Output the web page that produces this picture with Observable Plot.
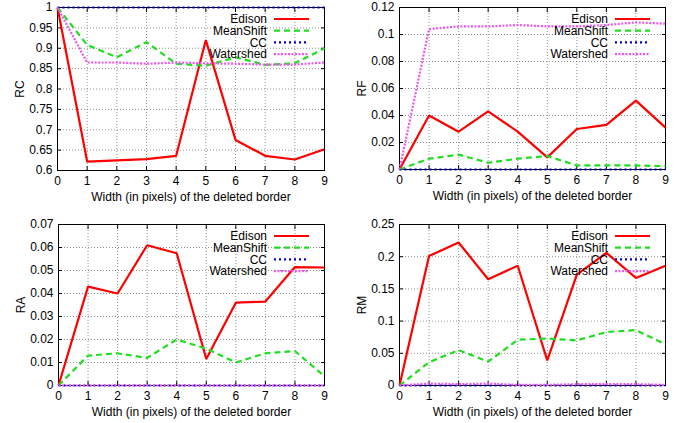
<!DOCTYPE html>
<html><head><meta charset="utf-8">
<script src="https://cdn.jsdelivr.net/npm/d3@7"></script>
<script src="https://cdn.jsdelivr.net/npm/@observablehq/plot@0.6"></script>
<style>
body{margin:0;background:#fff;font-family:"Liberation Sans",Arial,sans-serif;}
#root{position:relative;width:681px;height:423px;overflow:hidden;}
.panel{position:absolute;}
.legend{position:absolute;pointer-events:none;}
</style></head><body><div id="root"></div>
<script>
// ---- data ----
const widths = [0, 1, 2, 3, 4, 5, 6, 7, 8, 9];
const seriesNames = ["Edison", "MeanShift", "CC", "Watershed"];
const xTitle = "Width (in pixels) of the deleted border";

const rcEdison    = [1.0, 0.622, 0.625, 0.628, 0.636, 0.920, 0.675, 0.636, 0.627, 0.652];
const rcMeanShift = [1.0, 0.908, 0.878, 0.915, 0.862, 0.857, 0.878, 0.859, 0.863, 0.900];
const rcCC        = [1, 1, 1, 1, 1, 1, 1, 1, 1, 1];
const rcWatershed = [1.0, 0.865, 0.865, 0.862, 0.865, 0.863, 0.862, 0.860, 0.860, 0.865];

const rfEdison    = [0, 0.040, 0.028, 0.043, 0.028, 0.009, 0.030, 0.033, 0.051, 0.031];
const rfMeanShift = [0, 0.008, 0.011, 0.005, 0.008, 0.010, 0.003, 0.003, 0.003, 0.0025];
const rfCC        = [0, 0, 0, 0, 0, 0, 0, 0, 0, 0];
const rfWatershed = [0, 0.104, 0.106, 0.106, 0.107, 0.106, 0.106, 0.107, 0.109, 0.108];

const raEdison    = [0, 0.043, 0.040, 0.061, 0.0575, 0.0115, 0.036, 0.0365, 0.0515, 0.0513];
const raMeanShift = [0, 0.013, 0.014, 0.012, 0.020, 0.016, 0.010, 0.014, 0.015, 0.004];
const raCC        = [0, 0, 0, 0, 0, 0, 0, 0, 0, 0];
const raWatershed = [0, 0, 0, 0, 0, 0, 0, 0, 0, 0];

const rmEdison    = [0, 0.201, 0.222, 0.165, 0.186, 0.039, 0.172, 0.206, 0.167, 0.186];
const rmMeanShift = [0, 0.036, 0.055, 0.037, 0.071, 0.073, 0.070, 0.083, 0.086, 0.064];
const rmCC        = [0, 0, 0, 0, 0, 0, 0, 0, 0, 0];
const rmWatershed = [0, 0.003, 0.002, 0.003, 0.001, 0.001, 0.002, 0.002, 0.002, 0.001];

const rcTicks = [0.6, 0.65, 0.7, 0.75, 0.8, 0.85, 0.9, 0.95, 1];
const rfTicks = [0, 0.02, 0.04, 0.06, 0.08, 0.1, 0.12];
const raTicks = [0, 0.01, 0.02, 0.03, 0.04, 0.05, 0.06, 0.07];
const rmTicks = [0, 0.05, 0.1, 0.15, 0.2, 0.25];

// ---- styles ----
const styles = {
  Edison:    {stroke: "#ff0000", strokeWidth: 2.2, dash: null},
  MeanShift: {stroke: "#22dd22", strokeWidth: 2.2, dash: "6,4"},
  CC:        {stroke: "#0000dd", strokeWidth: 2.2, dash: "2,3"},
  Watershed: {stroke: "#ee55ee", strokeWidth: 2.2, dash: "2,1.5"}
};

const root = document.getElementById("root");

function panel({left, top, w, h, mt, mb, ml, mr, ticks, label, data}) {
  const rows = seriesNames.flatMap((s, si) => widths.map((x, i) => ({x, y: data[si][i], s})));
  const fmt = d => String(d);
  const grid = {stroke: "#777", strokeOpacity: 1, strokeWidth: 0.8, strokeDasharray: "1,2"};
  const marks = [
    Plot.gridX(widths, grid),
    Plot.gridY(ticks, grid),
    Plot.axisX(widths, {anchor: "bottom", tickSize: -4, tickFormat: () => "", label: null}),
    Plot.axisX(widths, {anchor: "top", tickSize: -4, tickFormat: () => "", label: null}),
    Plot.axisY(ticks, {anchor: "left", tickSize: -4, tickFormat: () => "", label: null}),
    Plot.axisY(ticks, {anchor: "right", tickSize: -4, tickFormat: () => "", label: null}),
    Plot.axisX(widths, {anchor: "bottom", tickSize: 0, tickPadding: 6, tickFormat: fmt,
      label: xTitle, labelAnchor: "center", labelOffset: 30, labelArrow: "none"}),
    Plot.axisY(ticks, {anchor: "left", tickSize: 0, tickPadding: 5, tickFormat: fmt,
      label, labelAnchor: "center", labelOffset: 42, labelArrow: "none"}),
    Plot.frame({stroke: "#000", strokeWidth: 1}),
    ...seriesNames.map(s => Plot.line(rows.filter(r => r.s === s), {
      x: "x", y: "y", stroke: styles[s].stroke, strokeWidth: styles[s].strokeWidth,
      strokeDasharray: styles[s].dash, strokeLinejoin: "miter", strokeLinecap: "butt"
    }))
  ];
  const svg = Plot.plot({
    width: w, height: h,
    marginTop: mt, marginBottom: mb, marginLeft: ml, marginRight: mr,
    x: {domain: [0, 9]},
    y: {domain: [ticks[0], ticks[ticks.length - 1]]},
    style: {fontSize: "12px", fontFamily: "'Liberation Sans', Arial, sans-serif", color: "#000", background: "transparent"},
    marks
  });
  svg.classList.add("panel");
  svg.style.left = left + "px";
  svg.style.top = top + "px";
  root.appendChild(svg);

  // legend overlay (top right inside the frame)
  const frameRight = left + w - mr;
  const LW = 150;
  const lg = d3.select(root).append("svg").attr("class", "legend")
    .attr("width", LW).attr("height", 56)
    .style("left", (frameRight - LW) + "px").style("top", (top + mt + 5) + "px");
  seriesNames.forEach((s, i) => {
    const yy = 7 + i * 11.7;
    lg.append("text").attr("x", LW - 57).attr("y", yy).attr("dy", "0.35em")
      .attr("text-anchor", "end").attr("font-size", 12)
      .attr("font-family", "'Liberation Sans', Arial, sans-serif").text(s);
    lg.append("line").attr("x1", LW - 50).attr("x2", LW - 15).attr("y1", yy).attr("y2", yy)
      .attr("stroke", styles[s].stroke).attr("stroke-width", styles[s].strokeWidth)
      .attr("stroke-dasharray", styles[s].dash);
  });
}

panel({left: 0, top: 0, w: 340, h: 210, mt: 7, mb: 40, ml: 57, mr: 16, ticks: rcTicks, label: "RC",
  data: [rcEdison, rcMeanShift, rcCC, rcWatershed]});
panel({left: 340, top: 0, w: 341, h: 210, mt: 7, mb: 41, ml: 59, mr: 16, ticks: rfTicks, label: "RF",
  data: [rfEdison, rfMeanShift, rfCC, rfWatershed]});
panel({left: 0, top: 210, w: 340, h: 213, mt: 14, mb: 38, ml: 58, mr: 16, ticks: raTicks, label: "RA",
  data: [raEdison, raMeanShift, raCC, raWatershed]});
panel({left: 340, top: 210, w: 341, h: 213, mt: 14, mb: 38, ml: 59, mr: 16, ticks: rmTicks, label: "RM",
  data: [rmEdison, rmMeanShift, rmCC, rmWatershed]});
</script>
</body></html>
